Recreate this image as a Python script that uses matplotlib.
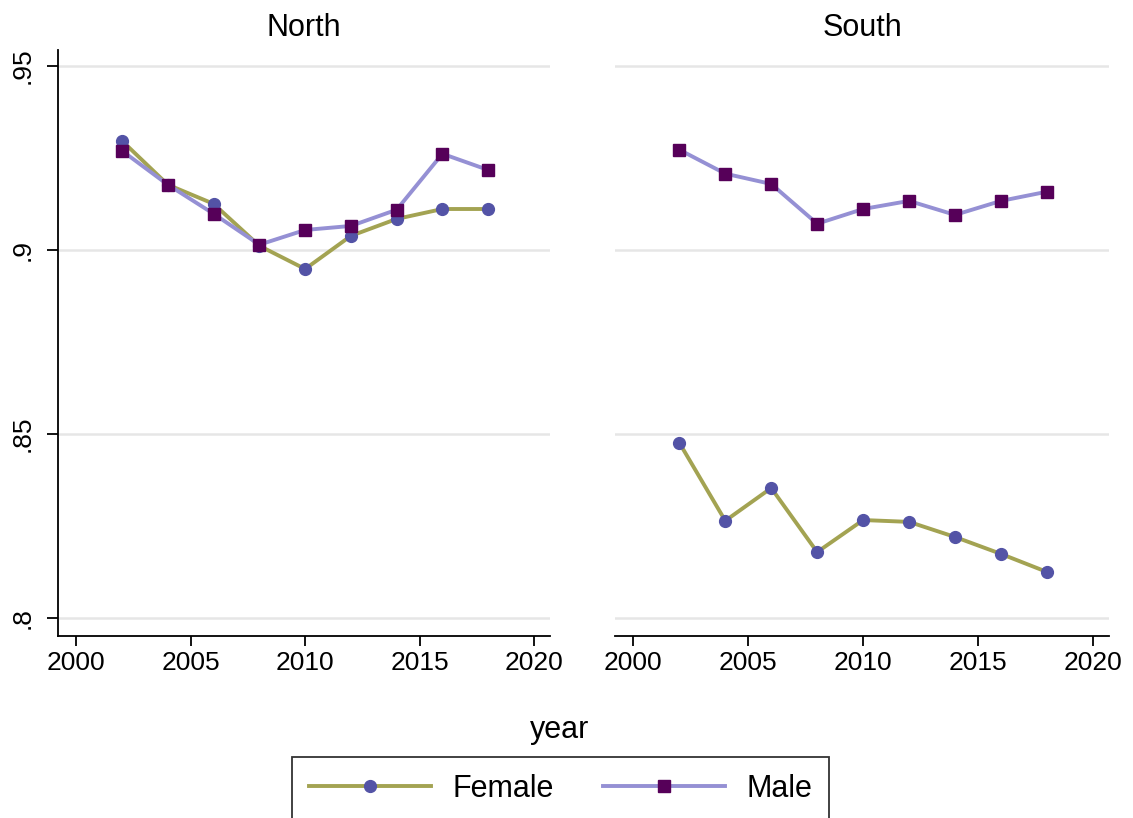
import matplotlib
matplotlib.use("Agg")
import matplotlib.pyplot as plt
from matplotlib.lines import Line2D

years = [2002, 2004, 2006, 2008, 2010, 2012, 2014, 2016, 2018]

north_female = [0.9296, 0.9177, 0.9125, 0.9011, 0.8948, 0.9038, 0.9084, 0.9111, 0.9111]
north_male = [0.9269, 0.9177, 0.9098, 0.9014, 0.9054, 0.9065, 0.9109, 0.9261, 0.9217]
south_female = [0.8476, 0.8264, 0.8353, 0.8179, 0.8266, 0.8261, 0.8220, 0.8174, 0.8125]
south_male = [0.9272, 0.9207, 0.9179, 0.9071, 0.9111, 0.9133, 0.9095, 0.9133, 0.9158]

regions = ["North", "South"]
x_ticks = [2000, 2005, 2010, 2015, 2020]
y_ticks = [0.8, 0.85, 0.9, 0.95]
y_tick_labels = [".8", ".85", ".9", ".95"]

female_line = "#a3a352"
female_marker = "#5353a6"
male_line = "#9590d4"
male_marker = "#560059"

plt.rcParams["font.family"] = ["Liberation Sans", "DejaVu Sans"]

fig = plt.figure(figsize=(11.33, 8.18), dpi=100)
ax_n = fig.add_axes([0.0512, 0.2225, 0.4342, 0.7164])
ax_s = fig.add_axes([0.5428, 0.2225, 0.4360, 0.7164], sharey=ax_n)

data = {"North": (north_female, north_male), "South": (south_female, south_male)}

for ax, region in zip([ax_n, ax_s], regions):
    fem, mal = data[region]
    ax.plot(years, fem, color=female_line, lw=2.8, marker="o", ms=8.5,
            mfc=female_marker, mec=female_marker, zorder=3)
    ax.plot(years, mal, color=male_line, lw=2.8, marker="s", ms=8.5,
            mfc=male_marker, mec=male_marker, zorder=3)
    ax.set_title(region, fontsize=22, pad=10)
    ax.set_xlim(1999.2, 2020.7)
    ax.set_ylim(0.7951, 0.9543)
    ax.set_xticks(x_ticks)
    ax.set_yticks(y_ticks)
    ax.grid(axis="y", color="#e6e6e6", lw=1.8)
    ax.set_axisbelow(True)
    for side in ["top", "right"]:
        ax.spines[side].set_visible(False)
    ax.spines["bottom"].set_linewidth(1.3)
    ax.spines["left"].set_linewidth(1.3)
    ax.tick_params(axis="x", labelsize=19, length=7, width=1.3, pad=4)
    ax.tick_params(axis="y", labelsize=19, length=8, width=1.3, pad=9)

ax_n.set_yticklabels(y_tick_labels, rotation=90, va="center")
ax_s.spines["left"].set_visible(False)
ax_s.tick_params(axis="y", left=False, labelleft=False)

fig.text(0.494, 0.107, "year", fontsize=22, ha="center", va="center")

handles = [
    Line2D([], [], color=female_line, lw=2.8, marker="o", ms=8.5,
           mfc=female_marker, mec=female_marker),
    Line2D([], [], color=male_line, lw=2.8, marker="s", ms=8.5,
           mfc=male_marker, mec=male_marker),
]
leg = fig.legend(handles, ["Female", "Male"], loc="lower center", ncol=2,
                 bbox_to_anchor=(0.495, -0.022), fontsize=22, frameon=True,
                 fancybox=False, edgecolor="black", handlelength=4,
                 handletextpad=0.7, columnspacing=1.6, borderpad=0.55)
leg.get_frame().set_linewidth(1.3)

fig.savefig("out.png", dpi=100)
